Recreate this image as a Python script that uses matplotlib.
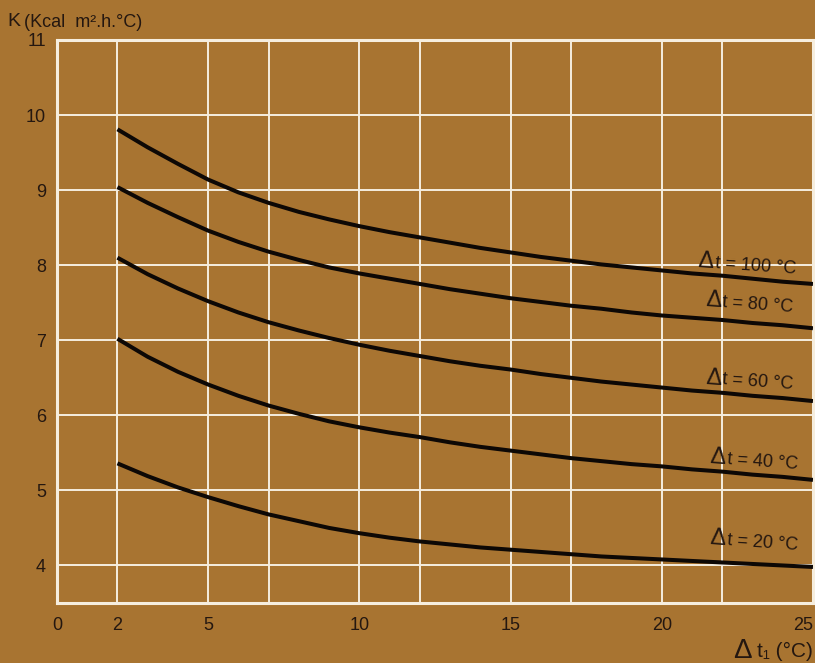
import numpy as np
import matplotlib.pyplot as plt

# temperature difference across the wall, Δt1 (°C)
dt1 = [2, 3, 4, 5, 6, 7, 8, 9, 10, 11, 12, 13, 14, 15, 16, 17, 18, 19,
       20, 21, 22, 23, 24, 25]

# heat transfer coefficient K (Kcal/m²·h·°C) for each Δt
k_100 = [9.81, 9.57, 9.35, 9.14, 8.97, 8.83, 8.71, 8.61, 8.52, 8.44, 8.37, 8.30,
         8.23, 8.17, 8.11, 8.06, 8.01, 7.97, 7.93, 7.89, 7.86, 7.82, 7.78, 7.75]
k_80 = [9.04, 8.83, 8.64, 8.46, 8.31, 8.18, 8.07, 7.97, 7.89, 7.82, 7.75, 7.68,
        7.62, 7.56, 7.51, 7.46, 7.42, 7.37, 7.33, 7.30, 7.27, 7.23, 7.20, 7.16]
k_60 = [8.10, 7.88, 7.69, 7.52, 7.37, 7.24, 7.13, 7.03, 6.94, 6.86, 6.79, 6.72,
        6.66, 6.61, 6.55, 6.50, 6.45, 6.41, 6.37, 6.33, 6.30, 6.26, 6.23, 6.19]
k_40 = [7.02, 6.78, 6.58, 6.41, 6.26, 6.13, 6.02, 5.92, 5.84, 5.77, 5.71, 5.64,
        5.58, 5.53, 5.48, 5.43, 5.39, 5.35, 5.32, 5.28, 5.25, 5.21, 5.18, 5.14]
k_20 = [5.36, 5.19, 5.04, 4.91, 4.79, 4.68, 4.59, 4.50, 4.43, 4.37, 4.32, 4.28,
        4.24, 4.21, 4.18, 4.15, 4.12, 4.10, 4.08, 4.06, 4.04, 4.02, 4.00, 3.98]

curves = [k_100, k_80, k_60, k_40, k_20]
labels = ["t = 100 °C", "t = 80 °C", "t = 60 °C", "t = 40 °C", "t = 20 °C"]
label_x = [21.2, 21.45, 21.45, 21.6, 21.6]
label_y = [8.05, 7.53, 6.50, 5.44, 4.36]

x_major = [0, 2, 5, 10, 15, 20, 25]
x_minor = [7, 12, 17, 22]
y_major = [4, 5, 6, 7, 8, 9, 10, 11]

bg = "#a87431"
grid_c = "#f6eedf"
ink = "#241710"

plt.rcParams['font.family'] = ['Liberation Sans', 'DejaVu Sans']

fig = plt.figure(figsize=(8.15, 6.63), dpi=100, facecolor=bg)
ax = fig.add_axes([0.0699, 0.0905, 0.9276, 0.8492], facecolor=bg)

for k in curves:
    ax.plot(dt1, k, color="#0d0805", lw=2.9, solid_capstyle='butt',
            solid_joinstyle='round', zorder=3)

# curve labels: a large delta followed by the rest of the text, tilted slightly
ang = -4
for lab, x, y in zip(labels, label_x, label_y):
    ax.annotate("Δ", (x, y), ha='left', va='center', fontsize=17, color=ink,
                rotation=ang, rotation_mode='anchor', zorder=4)
    w = 12.2
    ax.annotate(lab, (x, y), xytext=(w * np.cos(np.radians(ang)),
                                     w * np.sin(np.radians(ang)) - 0.5),
                textcoords='offset points', ha='left', va='center',
                fontsize=13, color=ink, rotation=ang, rotation_mode='anchor',
                zorder=4)

ax.set_xlim(0, 25)
ax.set_ylim(3.5, 11)
ax.set_xticks(x_major)
ax.set_xticks(x_minor, minor=True)
ax.set_yticks(y_major)
ax.grid(True, which='both', color=grid_c, lw=1.4, zorder=1)
ax.set_axisbelow(True)
ax.tick_params(which='both', length=0, colors=ink, labelsize=13)
ax.tick_params(axis='x', pad=10)
ax.tick_params(axis='y', pad=8)
ax.get_xticklabels()[-1].set_horizontalalignment('right')

for side in ['left', 'right', 'top', 'bottom']:
    ax.spines[side].set_color(grid_c)
    ax.spines[side].set_linewidth(2.2)

fig.text(0.009, 0.968, "K", fontsize=14, color=ink, va='center', ha='left')
fig.text(0.030, 0.966, "(Kcal  m².h.°C)", fontsize=13, color=ink,
         va='center', ha='left')
fig.text(0.899, 0.007, "Δ", fontsize=20, color=ink, va='baseline', ha='left')
fig.text(0.997, 0.009, "t₁ (°C)", fontsize=15, color=ink,
         va='baseline', ha='right')

fig.savefig("out.png", dpi=100, facecolor=bg)
